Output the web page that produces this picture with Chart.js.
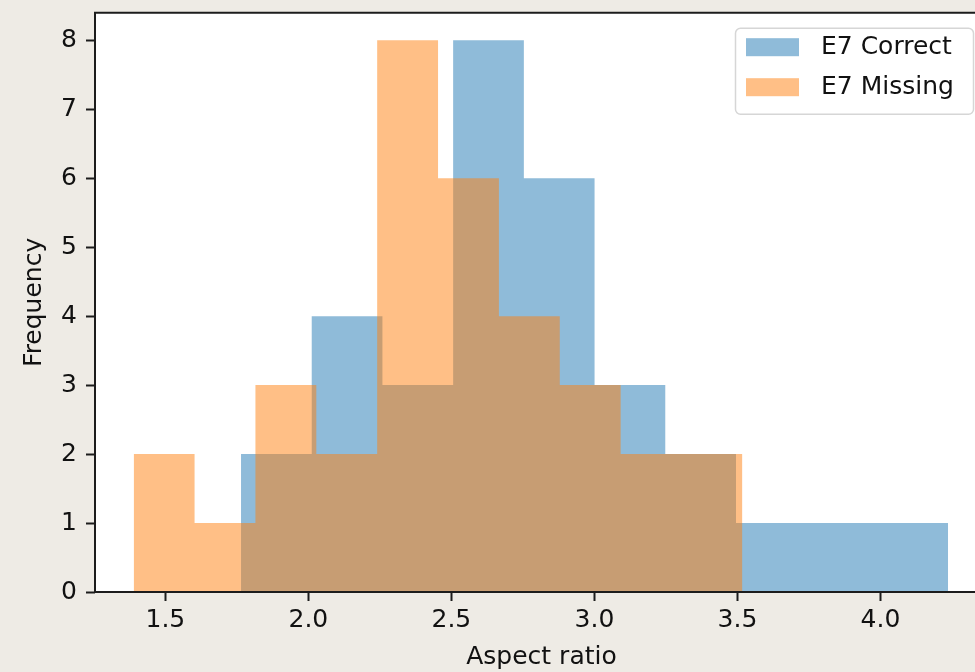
<!DOCTYPE html>
<html><head><meta charset="utf-8">
<script src="https://cdn.jsdelivr.net/npm/chart.js@4.4.0/dist/chart.umd.min.js"></script>
<style>
html,body{margin:0;padding:0;background:#eeebe5;overflow:hidden;width:975px;height:672px;}
#wrap{position:absolute;left:0;top:0;width:1000px;height:672px;}
</style></head><body>
<div id="wrap"><canvas id="c" width="1000" height="672"></canvas></div>
<script>
// Histogram bin edges and counts
const correctEdges  = [1.7645, 2.0117, 2.2589, 2.5061, 2.7533, 3.0005, 3.2477, 3.4949, 3.7421, 3.9893, 4.2365];
const correctCounts = [2, 4, 3, 8, 6, 3, 2, 1, 1, 1];
const missingEdges  = [1.3893, 1.6021, 1.8149, 2.0277, 2.2405, 2.4533, 2.6661, 2.8789, 3.0917, 3.3045, 3.5173];
const missingCounts = [2, 1, 3, 2, 8, 6, 4, 3, 2, 2];
const seriesLabels  = ['E7 Correct', 'E7 Missing'];
const xTicks = [1.5, 2.0, 2.5, 3.0, 3.5, 4.0];
const yTicks = [0, 1, 2, 3, 4, 5, 6, 7, 8];
const xTitle = 'Aspect ratio';
const yTitle = 'Frequency';

function stepPoints(edges, counts) {
  const pts = counts.map((c, i) => ({x: edges[i], y: c}));
  pts.push({x: edges[edges.length - 1], y: counts[counts.length - 1]});
  return pts;
}

const FONT = 'DejaVu Sans';
const TXT = '#111111';
const SPINE = '#1c1c1c';
const blueFill = 'rgba(31,119,180,0.5)';
const orangeFill = 'rgba(255,127,14,0.5)';

const plotBg = {
  id: 'plotBg',
  beforeDraw(chart) {
    const {ctx, chartArea: a} = chart;
    ctx.save();
    ctx.fillStyle = '#ffffff';
    ctx.fillRect(a.left, a.top, a.right - a.left, a.bottom - a.top);
    ctx.restore();
  }
};

const spines = {
  id: 'spines',
  afterDatasetsDraw(chart) {
    const {ctx, chartArea: a} = chart;
    ctx.save();
    ctx.strokeStyle = SPINE;
    ctx.lineWidth = 2;
    ctx.beginPath();
    ctx.moveTo(a.left, a.bottom); ctx.lineTo(a.left, a.top); ctx.lineTo(a.right + 2, a.top);
    ctx.moveTo(a.left - 1, a.bottom); ctx.lineTo(a.right + 2, a.bottom);
    ctx.stroke();
    ctx.restore();
  }
};

const boxLegend = {
  id: 'boxLegend',
  afterDraw(chart) {
    const {ctx, chartArea: a} = chart;
    const ds = chart.data.datasets;
    const right = a.right - 15, top = a.top + 15;
    const w = 238, h = 86;
    const left = right - w;
    ctx.save();
    ctx.beginPath();
    ctx.roundRect(left + 0.5, top + 0.5, w, h, 5);
    ctx.fillStyle = 'rgba(255,255,255,0.8)';
    ctx.fill();
    ctx.strokeStyle = '#d6d6d6';
    ctx.lineWidth = 1.5;
    ctx.stroke();
    ctx.font = '25px "' + FONT + '"';
    ctx.textBaseline = 'middle';
    ctx.textAlign = 'left';
    ds.forEach((d, i) => {
      const cy = top + 19.5 + i * 40;
      ctx.fillStyle = '#ffffff';
      ctx.fillRect(left + 11, cy - 9, 53, 18);
      ctx.fillStyle = d.backgroundColor;
      ctx.fillRect(left + 11, cy - 9, 53, 18);
      ctx.fillStyle = TXT;
      ctx.fillText(d.label, left + 86, cy);
    });
    ctx.restore();
  }
};

const tickFont = {family: FONT, size: 25, lineHeight: 1.2};

new Chart(document.getElementById('c'), {
  type: 'line',
  data: {
    datasets: [
      {label: seriesLabels[0], data: stepPoints(correctEdges, correctCounts), stepped: 'before',
       fill: 'origin', backgroundColor: blueFill, borderColor: 'rgba(0,0,0,0)', borderWidth: 0,
       pointRadius: 0, order: 1},
      {label: seriesLabels[1], data: stepPoints(missingEdges, missingCounts), stepped: 'before',
       fill: 'origin', backgroundColor: orangeFill, borderColor: 'rgba(0,0,0,0)', borderWidth: 0,
       pointRadius: 0, order: 0}
    ]
  },
  options: {
    responsive: false, animation: false, devicePixelRatio: 1,
    layout: {padding: {top: 12.7, right: 12, left: 0, bottom: 0}},
    plugins: {legend: {display: false}, tooltip: {enabled: false}},
    scales: {
      x: {
        type: 'linear', min: 1.254, max: 4.376,
        afterBuildTicks: s => { s.ticks = xTicks.map(v => ({value: v})); },
        afterFit: s => { s.height = 80; s.paddingLeft = 0; s.paddingRight = 0; },
        grid: {drawOnChartArea: false, drawTicks: true, tickLength: 9, tickColor: SPINE, tickWidth: 2},
        border: {display: false},
        ticks: {font: tickFont, color: TXT, padding: 4, maxRotation: 0, autoSkip: false,
                callback: v => Number(v).toFixed(1)},
        title: {display: true, text: xTitle, font: tickFont, color: TXT, padding: {top: 0, bottom: 0}}
      },
      y: {
        type: 'linear', min: 0, max: 8.4,
        afterBuildTicks: s => { s.ticks = yTicks.map(v => ({value: v})); },
        afterFit: s => { s.width = 95; s.paddingTop = 0; s.paddingBottom = 0; },
        grid: {drawOnChartArea: false, drawTicks: true, tickLength: 9, tickColor: SPINE, tickWidth: 2},
        border: {display: false},
        ticks: {font: tickFont, color: TXT, padding: 9, autoSkip: false, callback: v => String(v)},
        title: {display: true, text: yTitle, font: tickFont, color: TXT, padding: {top: 19, bottom: 0}}
      }
    }
  },
  plugins: [plotBg, spines, boxLegend]
});
</script>
</body></html>
